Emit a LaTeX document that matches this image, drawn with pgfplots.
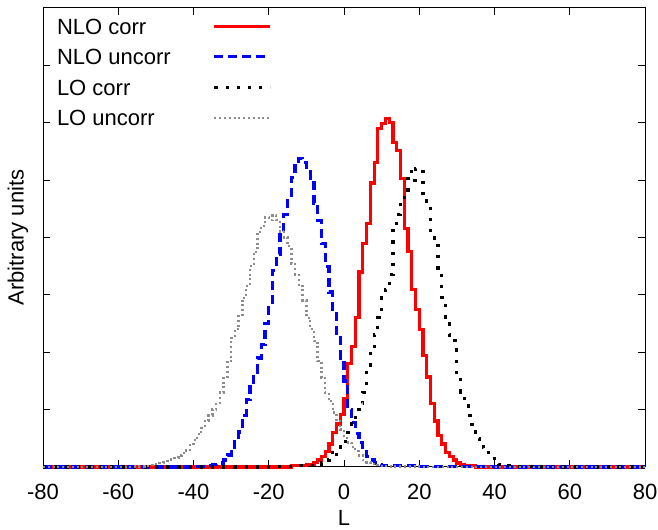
\documentclass[border=0pt]{standalone}
\usepackage{fontspec}
\setmainfont{Liberation Sans}
\usepackage{pgfplots}
\pgfplotsset{compat=1.18}
\definecolor{lgray}{RGB}{140,140,140}
\begin{document}%
\fontsize{11}{13.2}\selectfont%
\begin{tikzpicture}
\begin{axis}[
  name=ax,
  scale only axis,
  width=301pt, height=229.5pt,
  xmin=-80, xmax=80, ymin=0, ymax=8,
  xtick={-80,-60,...,80},
  ytick={0,1,...,8},
  yticklabels={},
  tick align=inside,
  major tick length=3.5pt,
  every tick/.style={black, line width=0.5pt},
  axis line style={line width=0.5pt},
  /pgf/number format/assume math mode=true,
  x tick label style={inner sep=0pt, yshift=-8.5pt},
  xlabel={L},
  ylabel={Arbitrary units},
  xlabel style={at={(axis description cs:0.5,0)}, anchor=north, inner sep=0pt, yshift=-21.5pt},
  ylabel style={at={(axis description cs:-0.024,0.5)}, anchor=south, inner sep=0pt},
  clip=false,
  legend plot pos=right,
  legend cell align=left,
  legend style={at={(axis description cs:0,1)}, anchor=north west, xshift=7pt, yshift=-5.25pt,
    draw=none, fill=none, inner sep=0pt, outer sep=0pt,
    row sep=7.35pt, column sep=21pt,
    nodes={inner sep=0pt, text height=7.9pt, text depth=0pt}},
  legend image code/.code={\draw[#1] (0pt,0pt) -- (28pt,0pt);},
  const plot,
]
\addplot[red, line width=1.6pt] coordinates {
(-80,0) (-14,0.02) (-10,0.04) (-9,0.05) (-8,0.08) (-7,0.12) (-6,0.18) (-5,0.27) (-4,0.4) (-3,0.6) (-2,0.75) (-1,0.92) (0,1.2) (1,1.8) (2,2.1) (3,2.6) (4,3.4) (5,3.9) (6,4.25) (7,4.95) (8,5.31) (9,5.9) (10,5.99) (11,6.08) (12,6.01) (13,5.66) (14,5.52) (15,5.03) (16,4.16) (17,3.75) (18,3.1) (19,2.75) (20,2.4) (21,1.95) (22,1.57) (23,1.1) (24,0.8) (25,0.55) (26,0.4) (27,0.25) (28,0.18) (29,0.12) (30,0.07) (31,0.04) (32,0.02) (35,0) (80,0)
};
\addlegendentry{NLO corr}
\addplot[blue, line width=1.6pt, dash pattern=on 4.5pt off 2.5pt] coordinates {
(-80,0) (-40,0.01) (-36,0.03) (-35,0.04) (-34,0.05) (-33,0.07) (-32,0.12) (-31,0.21) (-30,0.35) (-29,0.52) (-28,0.61) (-27,0.9) (-26,1.17) (-25,1.4) (-24,1.65) (-23,1.9) (-22,2.13) (-21,2.5) (-20,2.86) (-19,3.43) (-18,3.7) (-17,4.1) (-16,4.4) (-15,4.65) (-14,5.05) (-13,5.3) (-12,5.38) (-11,5.31) (-10,5.14) (-9,4.95) (-8,4.6) (-7,4.3) (-6,3.9) (-5,3.5) (-4,3.05) (-3,2.68) (-2,2.26) (-1,1.9) (0,1.5) (1,1.0) (2,0.77) (3,0.59) (4,0.42) (5,0.26) (6,0.18) (7,0.12) (8,0.07) (9,0.05) (10,0.03) (12,0.02) (20,0.01) (40,0) (80,0)
};
\addlegendentry{NLO uncorr}
\addplot[black, line width=1.6pt, dash pattern=on 1.6pt off 4pt] coordinates {
(-80,0) (-20,0.01) (-12,0.02) (-8,0.03) (-7,0.05) (-6,0.08) (-5,0.12) (-4,0.18) (-3,0.3) (-2,0.22) (-1,0.4) (0,0.45) (1,0.6) (2,0.75) (3,1.0) (4,1.1) (5,1.3) (6,1.7) (7,2.05) (8,2.3) (9,2.6) (10,3.0) (11,3.1) (12,3.35) (13,4.2) (14,4.4) (15,4.6) (16,4.7) (17,5.15) (18,5.0) (19,5.2) (20,5.15) (21,4.7) (22,4.5) (23,4.0) (24,3.9) (25,3.4) (26,2.95) (27,2.6) (28,2.3) (29,2.2) (30,1.6) (31,1.3) (32,1.1) (33,0.9) (34,0.65) (35,0.5) (36,0.35) (37,0.3) (38,0.25) (39,0.15) (40,0.1) (41,0.04) (42,0.02) (45,0.01) (50,0) (80,0)
};
\addlegendentry{LO corr}
\addplot[lgray, line width=1.2pt, dash pattern=on 1pt off 1.4pt] coordinates {
(-80,0) (-56,0.01) (-53,0.02) (-51,0.03) (-50,0.05) (-49,0.07) (-48,0.08) (-47,0.1) (-46,0.13) (-45,0.16) (-44,0.2) (-43,0.24) (-42,0.3) (-41,0.38) (-40,0.47) (-39,0.57) (-38,0.68) (-37,0.8) (-36,0.9) (-35,1.0) (-34,1.12) (-33,1.3) (-32,1.55) (-31,1.85) (-30,2.25) (-29,2.4) (-28,2.65) (-27,2.95) (-26,3.15) (-25,3.5) (-24,3.75) (-23,4.1) (-22,4.2) (-21,4.35) (-20,4.3) (-19,4.38) (-18,4.3) (-17,4.1) (-16,4.0) (-15,3.85) (-14,3.55) (-13,3.35) (-12,3.15) (-11,2.9) (-10,2.6) (-9,2.4) (-8,2.2) (-7,1.85) (-6,1.55) (-5,1.3) (-4,1.15) (-3,0.95) (-2,0.8) (-1,0.65) (0,0.5) (1,0.42) (2,0.35) (3,0.28) (4,0.2) (5,0.12) (6,0.08) (7,0.05) (8,0.03) (9,0.02) (12,0.01) (20,0) (80,0)
};
\addlegendentry{LO uncorr}
\end{axis}
\pgfresetboundingbox
\path ([shift={(-21.5pt,-31.5pt)}]ax.south west) rectangle ([shift={(6.5pt,4pt)}]ax.north east);
\end{tikzpicture}%
\end{document}
